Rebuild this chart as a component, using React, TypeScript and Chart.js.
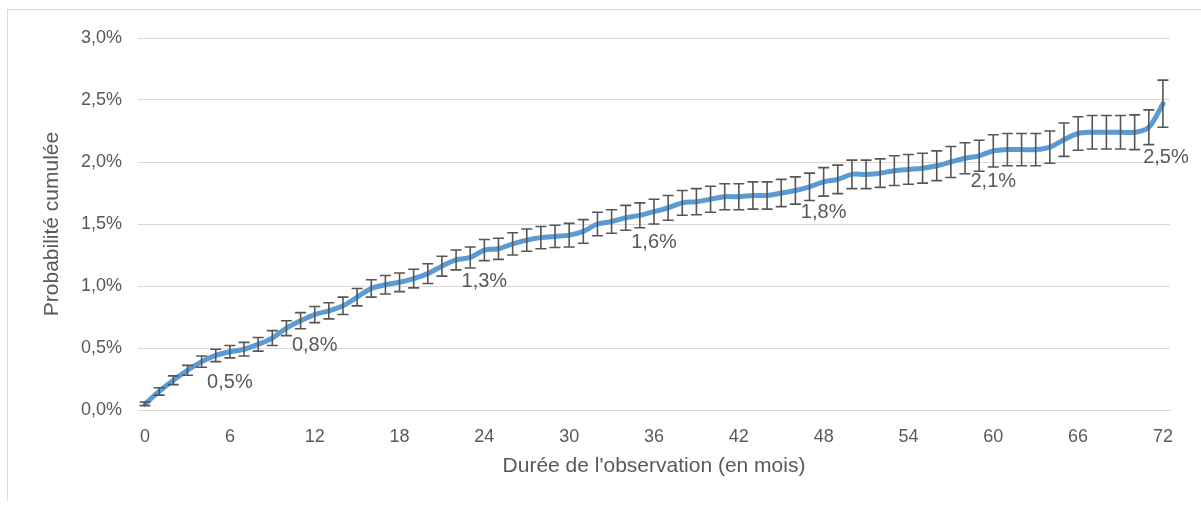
import React, { useEffect, useRef } from "react";
import { Chart, registerables } from "chart.js";

Chart.register(...registerables);

const months: number[] = Array.from({ length: 73 }, (_, i) => i);

const probability: number[] = [
  0.05, 0.15, 0.24, 0.32, 0.39, 0.44, 0.47, 0.49, 0.53, 0.58,
  0.66, 0.72, 0.77, 0.80, 0.84, 0.91, 0.98, 1.01, 1.03, 1.06,
  1.10, 1.16, 1.21, 1.23, 1.29, 1.30, 1.34, 1.37, 1.39, 1.40,
  1.41, 1.44, 1.50, 1.52, 1.55, 1.57, 1.60, 1.63, 1.67, 1.68,
  1.70, 1.72, 1.72, 1.73, 1.73, 1.75, 1.77, 1.80, 1.84, 1.86,
  1.90, 1.90, 1.91, 1.93, 1.94, 1.95, 1.97, 2.00, 2.03, 2.05,
  2.09, 2.10, 2.10, 2.10, 2.12, 2.18, 2.23, 2.24, 2.24, 2.24,
  2.24, 2.28, 2.47,
];

const errorHalf: number[] = [
  0.015, 0.03, 0.035, 0.04, 0.045, 0.05, 0.05, 0.055, 0.055, 0.06,
  0.06, 0.065, 0.065, 0.065, 0.07, 0.07, 0.07, 0.075, 0.075, 0.075,
  0.08, 0.08, 0.08, 0.085, 0.085, 0.085, 0.09, 0.09, 0.09, 0.09,
  0.095, 0.095, 0.095, 0.095, 0.1, 0.1, 0.1, 0.1, 0.1, 0.105,
  0.105, 0.105, 0.105, 0.11, 0.11, 0.11, 0.11, 0.11, 0.115, 0.115,
  0.115, 0.115, 0.115, 0.12, 0.12, 0.12, 0.12, 0.125, 0.125, 0.125,
  0.13, 0.13, 0.13, 0.13, 0.13, 0.135, 0.135, 0.135, 0.135, 0.135,
  0.14, 0.14, 0.19,
];

const labeledMonths: number[] = [6, 12, 24, 36, 48, 60, 72];

const yTicks: number[] = [0, 0.5, 1, 1.5, 2, 2.5, 3];

const FONT = "'Liberation Sans', Arial, sans-serif";
const TEXT = "#595959";

const fmtPct = (v: number) => v.toFixed(1).replace(".", ",") + "%";

const errorBarsPlugin = {
  id: "errorBarsAndLabels",
  afterDatasetsDraw(chart: any) {
    const meta = chart.getDatasetMeta(0);
    const yScale = chart.scales.y;
    const ctx = chart.ctx;
    ctx.save();
    ctx.strokeStyle = "#565656";
    ctx.lineWidth = 1.6;
    meta.data.forEach((pt: any, i: number) => {
      const v = probability[i];
      const e = errorHalf[i];
      const yt = yScale.getPixelForValue(v + e);
      const yb = yScale.getPixelForValue(v - e);
      const x = pt.x;
      ctx.beginPath();
      ctx.moveTo(x, yt);
      ctx.lineTo(x, yb);
      ctx.moveTo(x - 5.5, yt);
      ctx.lineTo(x + 5.5, yt);
      ctx.moveTo(x - 5.5, yb);
      ctx.lineTo(x + 5.5, yb);
      ctx.stroke();
    });
    ctx.fillStyle = TEXT;
    ctx.font = `20px ${FONT}`;
    ctx.textAlign = "center";
    ctx.textBaseline = "middle";
    const last = probability.length - 1;
    labeledMonths.forEach((m) => {
      const pt = meta.data[m];
      if (!pt) return;
      let y = pt.y + 31;
      if (m === last) {
        y = yScale.getPixelForValue(probability[m] - errorHalf[m]) + 30;
      }
      ctx.fillText(fmtPct(probability[m]), pt.x + (m === last ? 3 : 0), y);
    });
    ctx.restore();
  },
};

export default function App() {
  const ref = useRef<HTMLCanvasElement | null>(null);

  useEffect(() => {
    if (!ref.current) return;
    const chart = new Chart(ref.current, {
      type: "line",
      data: {
        labels: months.map(String),
        datasets: [
          {
            data: probability,
            borderColor: "#5B9BD5",
            borderWidth: 5,
            pointRadius: 0,
            tension: 0.35,
            fill: false,
            borderCapStyle: "round",
            borderJoinStyle: "round",
          },
        ],
      },
      options: {
        animation: false,
        responsive: false,
        layout: { padding: { left: 0, top: 38, right: 31, bottom: 0 } },
        plugins: {
          legend: { display: false },
          tooltip: { enabled: false },
        },
        scales: {
          x: {
            type: "category",
            offset: true,
            grid: { display: false, drawTicks: false },
            border: { display: true, color: "#d9d9d9", width: 1 },
            ticks: {
              autoSkip: false,
              maxRotation: 0,
              padding: 16,
              color: TEXT,
              font: { family: FONT, size: 18 },
              callback: (_v: any, i: number) => (i % 6 === 0 ? String(months[i]) : ""),
            },
            title: {
              display: true,
              text: "Durée de l'observation (en mois)",
              color: TEXT,
              font: { family: FONT, size: 21 },
              padding: { top: 0, bottom: 27 },
            },
            afterFit: (s: any) => {
              s.height = 96;
            },
          },
          y: {
            min: 0,
            max: 3,
            afterBuildTicks: (s: any) => {
              s.ticks = yTicks.map((v) => ({ value: v }));
            },
            grid: { color: "#d9d9d9", lineWidth: 1, drawTicks: false },
            border: { display: false },
            ticks: {
              padding: 16,
              color: TEXT,
              font: { family: FONT, size: 18 },
              callback: (v: any) => fmtPct(Number(v)),
            },
            title: {
              display: true,
              text: "Probabilité cumulée",
              color: TEXT,
              font: { family: FONT, size: 21 },
              padding: { top: 40, bottom: 0 },
            },
            afterFit: (s: any) => {
              s.width = 138;
            },
          },
        },
      },
      plugins: [errorBarsPlugin],
    });
    return () => chart.destroy();
  }, []);

  return (
    <>
      <div
        style={{
          position: "absolute",
          left: 7,
          top: 9,
          width: 1200,
          height: 492,
          borderLeft: "1px solid #d9d9d9",
          borderTop: "1px solid #d9d9d9",
          boxSizing: "border-box",
        }}
      />
      <canvas
        ref={ref}
        width={1201}
        height={506}
        style={{ position: "absolute", left: 0, top: 0, width: 1201, height: 506 }}
      />
    </>
  );
}
